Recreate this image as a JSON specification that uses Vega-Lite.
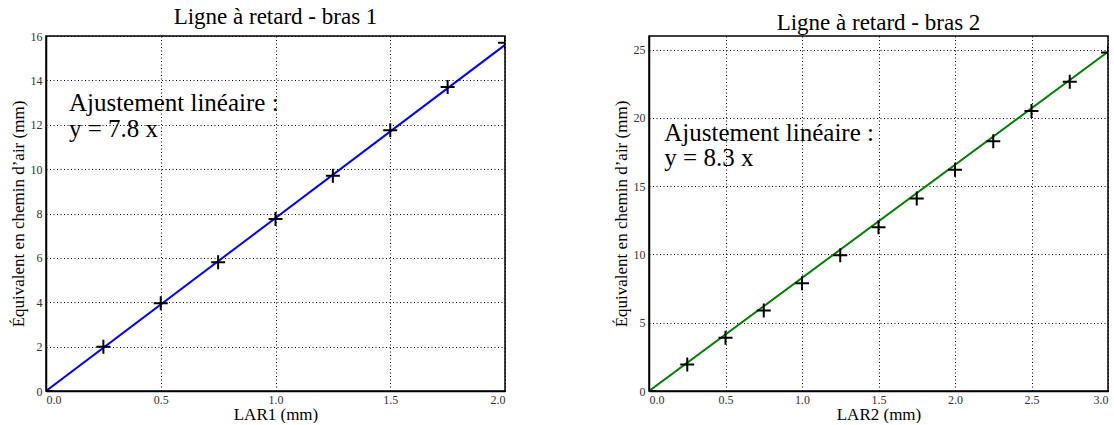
{
  "$schema": "https://vega.github.io/schema/vega-lite/v6.json",
  "background": "white",
  "padding": {"left": 8, "top": 5, "right": 0, "bottom": 0},
  "spacing": 105,
  "config": {
    "font": "Liberation Serif",
    "mark": {"font": "Liberation Serif"},
    "text": {"font": "Liberation Serif"},
    "view": {"stroke": "black", "strokeWidth": 1.5},
    "axis": {
      "grid": true, "gridColor": "black", "gridDash": [1, 2.5], "gridOpacity": 1, "gridWidth": 1,
      "domainColor": "black", "domainWidth": 1.5,
      "ticks": false, "labelPadding": 4,
      "labelFont": "Liberation Serif", "labelFontSize": 12, "labelColor": "#333",
      "titleFont": "Liberation Serif", "titleFontSize": 17, "titleFontWeight": "normal", "titleColor": "black", "titlePadding": 3
    },
    "axisX": {"labelPadding": 3, "titlePadding": 1},
    "title": {"font": "Liberation Serif", "fontSize": 23, "fontWeight": "normal", "color": "black", "offset": 1}
  },
  "datasets": {
    "pts1": [
      {"x": 0, "y": 0}, {"x": 0.25, "y": 2.0}, {"x": 0.5, "y": 3.95}, {"x": 0.75, "y": 5.8},
      {"x": 1.0, "y": 7.75}, {"x": 1.25, "y": 9.7}, {"x": 1.5, "y": 11.75}, {"x": 1.75, "y": 13.7}, {"x": 2.0, "y": 15.7}
    ],
    "fit1": [{"x": 0, "y": 0}, {"x": 2.0, "y": 15.6}],
    "txt1": [{"x": 0.1, "y": 12.6, "t": "Ajustement linéaire :"}, {"x": 0.1, "y": 11.45, "t": "y = 7.8 x"}],
    "pts2": [
      {"x": 0, "y": 0}, {"x": 0.25, "y": 1.95}, {"x": 0.5, "y": 3.9}, {"x": 0.75, "y": 5.9},
      {"x": 1.0, "y": 7.9}, {"x": 1.25, "y": 9.95}, {"x": 1.5, "y": 12.0}, {"x": 1.75, "y": 14.1},
      {"x": 2.0, "y": 16.2}, {"x": 2.25, "y": 18.3}, {"x": 2.5, "y": 20.5}, {"x": 2.75, "y": 22.65}, {"x": 3.0, "y": 24.8}
    ],
    "fit2": [{"x": 0, "y": 0}, {"x": 3.0, "y": 24.85}],
    "txt2": [{"x": 0.1, "y": 18.3, "t": "Ajustement linéaire :"}, {"x": 0.1, "y": 16.5, "t": "y = 8.3 x"}]
  },
  "hconcat": [
    {
      "width": 459, "height": 355,
      "title": "Ligne à retard - bras 1",
      "layer": [
        {
          "data": {"name": "fit1"},
          "mark": {"type": "line", "color": "#0000ff", "strokeWidth": 2, "clip": true},
          "encoding": {
            "x": {"field": "x", "type": "quantitative", "scale": {"domain": [0, 2], "nice": false},
                  "axis": {"title": "LAR1 (mm)", "values": [0, 0.5, 1.0, 1.5, 2.0], "format": ".1f"}},
            "y": {"field": "y", "type": "quantitative", "scale": {"domain": [0, 16], "nice": false},
                  "axis": {"title": "Équivalent en chemin d’air (mm)", "values": [0, 2, 4, 6, 8, 10, 12, 14, 16]}}
          }
        },
        {
          "data": {"name": "pts1"},
          "mark": {"type": "point", "shape": "M-1,0L1,0M0,-1L0,1", "size": 196, "filled": false, "color": "black", "strokeWidth": 2, "opacity": 1, "clip": true},
          "encoding": {
            "x": {"field": "x", "type": "quantitative"},
            "y": {"field": "y", "type": "quantitative"}
          }
        },
        {
          "data": {"name": "txt1"},
          "mark": {"type": "text", "align": "left", "baseline": "alphabetic", "fontSize": 25, "font": "Liberation Serif", "color": "black"},
          "encoding": {
            "x": {"field": "x", "type": "quantitative"},
            "y": {"field": "y", "type": "quantitative"},
            "text": {"field": "t"}
          }
        }
      ]
    },
    {
      "width": 459, "height": 355,
      "title": "Ligne à retard - bras 2",
      "layer": [
        {
          "data": {"name": "fit2"},
          "mark": {"type": "line", "color": "#008000", "strokeWidth": 2, "clip": true},
          "encoding": {
            "x": {"field": "x", "type": "quantitative", "scale": {"domain": [0, 3], "nice": false},
                  "axis": {"title": "LAR2 (mm)", "values": [0, 0.5, 1.0, 1.5, 2.0, 2.5, 3.0], "format": ".1f"}},
            "y": {"field": "y", "type": "quantitative", "scale": {"domain": [0, 26], "nice": false},
                  "axis": {"title": "Équivalent en chemin d’air (mm)", "values": [0, 5, 10, 15, 20, 25]}}
          }
        },
        {
          "data": {"name": "pts2"},
          "mark": {"type": "point", "shape": "M-1,0L1,0M0,-1L0,1", "size": 196, "filled": false, "color": "black", "strokeWidth": 2, "opacity": 1, "clip": true},
          "encoding": {
            "x": {"field": "x", "type": "quantitative"},
            "y": {"field": "y", "type": "quantitative"}
          }
        },
        {
          "data": {"name": "txt2"},
          "mark": {"type": "text", "align": "left", "baseline": "alphabetic", "fontSize": 25, "font": "Liberation Serif", "color": "black"},
          "encoding": {
            "x": {"field": "x", "type": "quantitative"},
            "y": {"field": "y", "type": "quantitative"},
            "text": {"field": "t"}
          }
        }
      ]
    }
  ]
}
